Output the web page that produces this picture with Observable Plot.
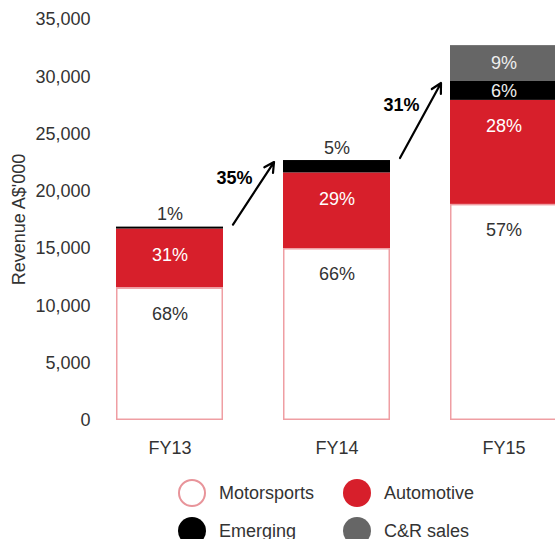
<!DOCTYPE html>
<html>
<head>
<meta charset="utf-8">
<script src="https://cdn.jsdelivr.net/npm/d3@7"></script>
<script src="https://cdn.jsdelivr.net/npm/@observablehq/plot@0.6"></script>
<style>
  html, body { margin: 0; padding: 0; background: #fff; overflow: hidden; }
  body { width: 555px; height: 539px; font-family: "Liberation Sans", Arial, Helvetica, sans-serif; }
  #legend { display: grid; grid-template-columns: 165px 165px; row-gap: 10px; margin-left: 178px; padding-top: 14px; }
  .item { display: flex; align-items: center; height: 28px; font-size: 18px; color: #333; }
  .sw { width: 28px; height: 28px; border-radius: 50%; box-sizing: border-box; margin-right: 13px; flex: none; }
</style>
</head>
<body>
<div id="chart"></div>
<div id="legend"></div>
<script>
const years = ["FY13", "FY14", "FY15"];
const series = ["Motorsports", "Automotive", "Emerging", "C&R sales"];
const motorsports = [11570, 15010, 18860];
const automotive = [5140, 6600, 9080];
const emerging = [170, 1080, 1650];
const crSales = [0, 0, 3130];
const motorsportsPct = ["68%", "66%", "57%"];
const automotivePct = ["31%", "29%", "28%"];
const emergingPct = ["1%", "5%", "6%"];
const crSalesPct = ["", "", "9%"];
const growthLabels = ["35%", "31%"];
const yTicks = [0, 5000, 10000, 15000, 20000, 25000, 30000, 35000];
const fills = ["#ffffff", "#d71f2b", "#000000", "#666666"];
const labelColors = ["#333333", "#ffffff", "#eeeeee", "#eeeeee"];
const motorsportsStroke = "#ef9ea3";
const legendStroke = "#e8949a";

const valuesBySeries = [motorsports, automotive, emerging, crSales];
const pctBySeries = [motorsportsPct, automotivePct, emergingPct, crSalesPct];

// build stacked rows
const rows = [];
years.forEach((yr, i) => {
  let base = 0;
  series.forEach((s, k) => {
    const v = valuesBySeries[k][i];
    if (v > 0) {
      rows.push({year: yr, series: s, k, value: v, y1: base, y2: base + v, pct: pctBySeries[k][i]});
    }
    base += v;
  });
});
// totals excluding C&R sales (growth arrows)
const core = years.map((yr, i) => motorsports[i] + automotive[i] + emerging[i]);

const aboveRows = rows.filter(d => d.value < 1500);
const topRows = rows.filter(d => d.value >= 1500 && d.k < 2);
const centerRows = rows.filter(d => d.value >= 1500 && d.k >= 2);

const W = 555, H = 465, MT = 19, MB = 45, ML = 96, FS = 18;

function extras(index, scales, values, dimensions) {
  const x = scales.x, y = scales.y;
  const bw = x.bandwidth ? x.bandwidth() : 0;
  const g = d3.create("svg:g");
  // y axis title
  g.append("text")
    .attr("transform", `translate(19,${(dimensions.marginTop + dimensions.height - dimensions.marginBottom) / 2}) rotate(-90)`)
    .attr("text-anchor", "middle")
    .attr("dy", "0.35em")
    .attr("fill", "#333")
    .attr("font-size", FS)
    .text("Revenue A$'000");
  for (let i = 0; i < years.length - 1; i++) {
    const x1 = x(years[i]) + bw + 10, y1 = y(core[i]) - 2;
    const x2 = x(years[i + 1]) - 9, y2 = y(core[i + 1]) + 2;
    const a = Math.atan2(y2 - y1, x2 - x1);
    const L = 11, sp = 28 * Math.PI / 180;
    const hx1 = x2 - L * Math.cos(a - sp), hy1 = y2 - L * Math.sin(a - sp);
    const hx2 = x2 - L * Math.cos(a + sp), hy2 = y2 - L * Math.sin(a + sp);
    g.append("path")
      .attr("d", `M${x1},${y1}L${x2},${y2}M${hx1},${hy1}L${x2},${y2}L${hx2},${hy2}`)
      .attr("fill", "none").attr("stroke", "#000").attr("stroke-width", 2.2)
      .attr("stroke-linecap", "round").attr("stroke-linejoin", "round");
    g.append("text")
      .attr("x", (x1 + x2) / 2 - 19).attr("y", (y1 + y2) / 2 - 16)
      .attr("dy", "0.35em").attr("text-anchor", "middle")
      .attr("font-weight", "bold").attr("font-size", FS).attr("fill", "#000")
      .text(growthLabels[i]);
  }
  return g.node();
}

const chart = Plot.plot({
  width: W,
  height: H,
  marginTop: MT,
  marginBottom: MB,
  marginLeft: ML,
  marginRight: 0,
  style: {fontFamily: "'Liberation Sans', Arial, Helvetica, sans-serif", fontSize: FS + "px", color: "#333", background: "white", overflow: "hidden"},
  x: {domain: years, range: [85, 588], paddingInner: 0.36, paddingOuter: 0.1855, label: null, tickSize: 0, tickPadding: 21},
  y: {domain: [0, 35000], ticks: yTicks, tickFormat: d3.format(","), label: null, tickSize: 0, tickPadding: 6},
  color: {domain: series, range: fills},
  marks: [
    Plot.rectY(rows, {x: "year", y1: "y1", y2: "y2", fill: "series"}),
    Plot.rectY(rows.filter(d => d.k === 0), {x: "year", y1: "y1", y2: "y2", fill: "none", stroke: motorsportsStroke, strokeWidth: 1.5, inset: 0.75}),
    Plot.text(topRows, {x: "year", y: "y2", text: "pct", dy: 26, fill: d => labelColors[d.k], fontSize: FS}),
    Plot.text(centerRows, {x: "year", y: d => (d.y1 + d.y2) / 2, text: "pct", fill: d => labelColors[d.k], fontSize: FS}),
    Plot.text(aboveRows, {x: "year", y: "y2", text: "pct", dy: -12.5, fill: "#333", fontSize: FS}),
    extras
  ]
});
document.getElementById("chart").appendChild(chart);

// legend
const legend = document.getElementById("legend");
series.forEach((s, k) => {
  const item = document.createElement("div");
  item.className = "item";
  const sw = document.createElement("span");
  sw.className = "sw";
  if (k === 0) { sw.style.background = "#fff"; sw.style.border = `2.5px solid ${legendStroke}`; }
  else sw.style.background = fills[k];
  item.appendChild(sw);
  const t = document.createElement("span");
  t.textContent = s;
  item.appendChild(t);
  legend.appendChild(item);
});
</script>
</body>
</html>
